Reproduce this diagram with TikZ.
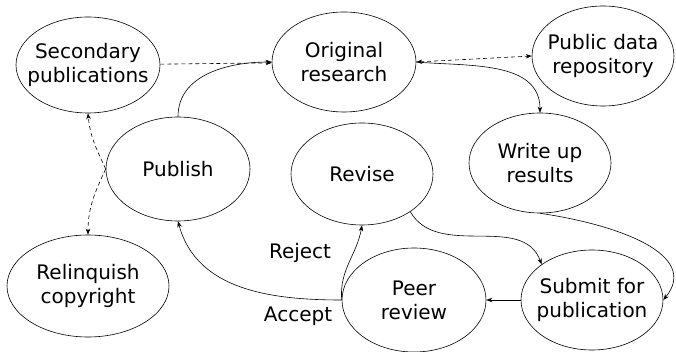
\documentclass[tikz,border=0pt]{standalone}
\usepackage{fontspec}
\setmainfont{DejaVu Sans}
\usetikzlibrary{shapes.geometric,arrows.meta}

\begin{document}
\begin{tikzpicture}[x=1pt, y=-1pt, line width=0.6pt, font=\fontsize{20}{24}\selectfont,
  stage/.style={draw, ellipse, align=center, inner xsep=-12pt, inner ysep=0pt,
    minimum width=144pt, minimum height=100pt},
  flow/.style={-{Stealth[length=6pt,width=4.5pt]}},
  side/.style={flow, dash pattern=on 4pt off 3pt}]
  \useasboundingbox (0,0) rectangle (676,352);
  \node[stage, minimum height=96pt] (second) at (88,65) {Secondary\\publications};
  \node[stage] (orig) at (344,62) {Original\\research};
  \node[stage, minimum width=142pt] (repo) at (603,56) {Public data\\repository};
  \node[stage, minimum height=104pt] (publish) at (178,169) {Publish};
  \node[stage, minimum width=142pt, minimum height=102pt] (revise) at (362,174) {Revise};
  \node[stage, minimum width=142pt] (write) at (540,163) {Write up\\results};
  \node[stage, minimum width=162pt, minimum height=102pt] (relinq) at (88,286) {Relinquish\\copyright};
  \node[stage, minimum height=104pt] (peer) at (414,300) {Peer\\review};
  \node[stage, minimum width=142pt] (submit) at (592,300) {Submit for\\publication};
  \node (reject) at (300,253) {Reject};
  \node (accept) at (298,316) {Accept};

  \draw[side] (second) -- (orig);
  \draw[side, {Stealth[length=6pt,width=4.5pt]}-{Stealth[length=6pt,width=4.5pt]}] (orig.east) -- (repo.west);
  \draw[flow] (orig.east) to[out=-5, in=90] (write.north);
  \draw[flow] (publish.north) to[out=90, in=180] (orig.west);
  \draw[side] (publish.west) to[out=115, in=-85] (second.south);
  \draw[side] (publish.west) to[out=-115, in=90] (relinq.north);
  \draw[flow] (write.south) .. controls (620,225) and (700,255) .. (submit.east);
  \draw[flow] (revise.-38) to[out=-60, in=110] (submit.north west);
  \draw[flow] (submit) -- (peer);
  \draw[flow] (peer.west) to[out=180, in=-75] (publish.south);
  \draw[flow] (peer.west) to[out=95, in=-100] (revise.south);
\end{tikzpicture}
\end{document}
